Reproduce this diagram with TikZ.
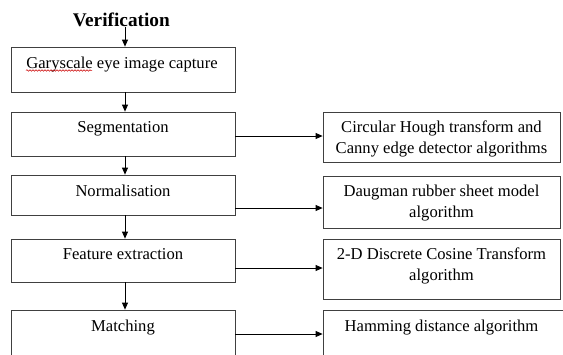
\documentclass[tikz,border=0pt]{standalone}
\usepackage{fontspec}
\setmainfont{Liberation Serif}
\usetikzlibrary{arrows.meta,decorations.pathmorphing}
\tikzset{
  box/.style={draw=black!75, line width=0.8pt, rectangle, inner sep=0pt, fill=white},
  lbox/.style={box, minimum width=224pt},
  rbox/.style={box, minimum width=237pt},
  txt/.style={anchor=base, inner sep=0pt, font=\fontsize{16.6}{20}\selectfont},
  arr/.style={line width=0.8pt, -{Triangle[length=7pt,width=6pt]}},
  squig/.style={red!80!black, line width=0.5pt, decorate, decoration={snake, amplitude=0.8pt, segment length=3pt}}
}
\begin{document}
\begin{tikzpicture}[x=1pt,y=-1pt]
\useasboundingbox (0,0) rectangle (563,354);
\clip (0,0) rectangle (563,354);
\fill[white] (0,0) rectangle (563,354);
% title
\node[anchor=base, inner sep=0pt, font=\bfseries\fontsize{19.3}{23}\selectfont] (ver) at (121.4,26.5) {Verification};
% left boxes
\node[lbox, minimum height=45pt] (b1) at (123,69.5) {};
\node[lbox, minimum height=44pt] (b2) at (123,134) {};
\node[lbox, minimum height=40pt] (b3) at (123,195) {};
\node[lbox, minimum height=43pt] (b4) at (123,260.5) {};
\node[lbox, minimum height=60pt] (b5) at (123,340) {};
% right boxes
\node[rbox, minimum height=50pt] (r1) at (441.5,137) {};
\node[rbox, minimum height=52pt] (r2) at (441.5,202) {};
\node[rbox, minimum height=60pt] (r3) at (441.5,269) {};
\node[box, minimum width=247pt, minimum height=60pt] (r4) at (446.5,340) {};
% left texts
\node[txt] (t1) at (122,68) {Garyscale eye image capture};
\draw[squig] (26,70.5) -- (92,70.5);
\node[txt] (t2) at (123,132.5) {Segmentation};
\node[txt] (t3) at (123,196) {Normalisation};
\node[txt] (t4) at (123,259.5) {Feature extraction};
\node[txt] (t5) at (123,331.5) {Matching};
% right texts
\node[txt] (u1a) at (441.5,132.5) {Circular Hough transform and};
\node[txt] (u1b) at (441.5,153) {Canny edge detector algorithms};
\node[txt] (u2a) at (441.5,196.5) {Daugman rubber sheet model};
\node[txt] (u2b) at (441.5,217) {algorithm};
\node[txt] (u3a) at (441.5,259.5) {2-D Discrete Cosine Transform};
\node[txt] (u3b) at (441.5,280) {algorithm};
\node[txt] (u4a) at (441.5,331) {Hamming distance algorithm};
% vertical arrows
\draw[arr] ([xshift=3.6pt,yshift=-0.5pt]ver.base) -- ([xshift=2pt]b1.north);
\draw[arr] ([xshift=2pt]b1.south) -- ([xshift=2pt]b2.north);
\draw[arr] ([xshift=2pt]b2.south) -- ([xshift=2pt]b3.north);
\draw[arr] ([xshift=2pt]b3.south) -- ([xshift=2pt]b4.north);
\draw[arr] ([xshift=2pt]b4.south) -- ([xshift=2pt]b5.north);
% horizontal arrows
\draw[arr] (b2.east |- 0,136) -- (r1.west |- 0,136);
\draw[arr] (b3.east |- 0,208) -- (r2.west |- 0,208);
\draw[arr] (b4.east |- 0,268) -- (r3.west |- 0,268);
\draw[arr] (b5.east |- 0,334) -- (r4.west |- 0,334);
\end{tikzpicture}
\end{document}
